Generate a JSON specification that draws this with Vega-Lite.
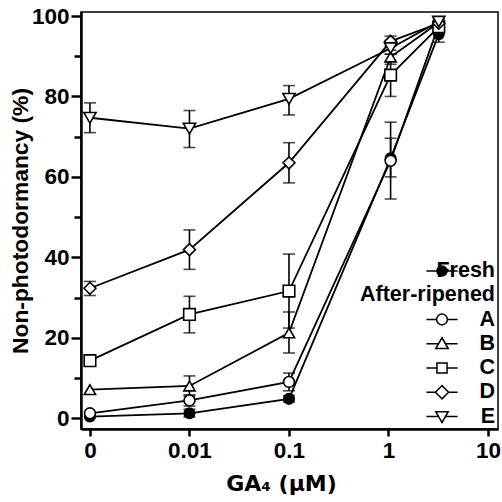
{
  "$schema": "https://vega.github.io/schema/vega-lite/v6.json",
  "width": 417,
  "height": 417,
  "autosize": {"type": "none"},
  "padding": {"left": 81, "top": 12, "right": 4, "bottom": 73},
  "background": "white",
  "config": {
    "font": "Liberation Sans",
    "view": {"stroke": "black", "strokeWidth": 1.5},
    "axis": {
      "domainColor": "black",
      "domainWidth": 2.5,
      "tickColor": "black",
      "tickWidth": 2.5,
      "grid": false
    }
  },
  "data": {
    "values": [
      {"s": "Fresh", "x": 0.001, "y": 0.4},
      {"s": "Fresh", "x": 0.01, "y": 1.2, "lo": 0.3, "hi": 2.2},
      {"s": "Fresh", "x": 0.1, "y": 4.8, "lo": 4, "hi": 5.6},
      {"s": "Fresh", "x": 1.05, "y": 64.6, "lo": 60, "hi": 69.6},
      {"s": "Fresh", "x": 3.2, "y": 95.5, "lo": 93.5, "hi": 97.5},
      {"s": "A", "x": 0.001, "y": 1.2},
      {"s": "A", "x": 0.01, "y": 4.4, "lo": 3, "hi": 5.8},
      {"s": "A", "x": 0.1, "y": 9, "lo": 6.8, "hi": 11.2},
      {"s": "A", "x": 1.05, "y": 64, "lo": 54.5, "hi": 73.6},
      {"s": "A", "x": 3.2, "y": 97.8, "lo": 96.5, "hi": 99.2},
      {"s": "B", "x": 0.001, "y": 7.1},
      {"s": "B", "x": 0.01, "y": 8, "lo": 5.5, "hi": 10.5},
      {"s": "B", "x": 0.1, "y": 21.2, "lo": 16.2, "hi": 26.4},
      {"s": "B", "x": 1.05, "y": 89.8, "lo": 88, "hi": 91.5},
      {"s": "B", "x": 3.2, "y": 98.4, "lo": 97.5, "hi": 99.5},
      {"s": "C", "x": 0.001, "y": 14.3},
      {"s": "C", "x": 0.01, "y": 25.8, "lo": 21.2, "hi": 30.3},
      {"s": "C", "x": 0.1, "y": 31.6, "lo": 22.4, "hi": 40.8},
      {"s": "C", "x": 1.05, "y": 85.3, "lo": 80, "hi": 90.5},
      {"s": "C", "x": 3.2, "y": 97.3, "lo": 96, "hi": 98.6},
      {"s": "D", "x": 0.001, "y": 32.3, "lo": 30.5, "hi": 34},
      {"s": "D", "x": 0.01, "y": 41.9, "lo": 37, "hi": 46.8},
      {"s": "D", "x": 0.1, "y": 63.5, "lo": 58.5, "hi": 68.5},
      {"s": "D", "x": 1.05, "y": 93.7, "lo": 92.5, "hi": 95},
      {"s": "D", "x": 3.2, "y": 98.2},
      {"s": "E", "x": 0.001, "y": 74.7, "lo": 71, "hi": 78.4},
      {"s": "E", "x": 0.01, "y": 72, "lo": 67.3, "hi": 76.5},
      {"s": "E", "x": 0.1, "y": 79.4, "lo": 75.4, "hi": 82.7},
      {"s": "E", "x": 1.05, "y": 92, "lo": 90.5, "hi": 93.5},
      {"s": "E", "x": 3.2, "y": 98.6, "lo": 97.5, "hi": 99.6}
    ]
  },
  "encoding": {
    "x": {
      "field": "x",
      "type": "quantitative",
      "scale": {"type": "log", "domain": [0.000813, 12.6], "nice": false},
      "axis": {
        "values": [0.001, 0.01, 0.1, 1, 10],
        "labelExpr": "datum.value < 0.005 ? '0' : format(datum.value, '~g')",
        "tickSize": 7,
        "labelPadding": 3,
        "labelFont": "Liberation Sans",
        "labelFontWeight": "bold",
        "labelFontSize": 22.5,
        "labelColor": "black",
        "labelFlush": false,
        "labelBound": false,
        "labelOverlap": false,
        "title": "GA₄ (μM)",
        "titleFont": "DejaVu Sans",
        "titleFontWeight": "bold",
        "titleFontSize": 22,
        "titleColor": "black",
        "titleX": 200,
        "titlePadding": 12
      }
    },
    "y": {
      "field": "y",
      "type": "quantitative",
      "scale": {"domain": [-2.7, 101], "nice": false, "zero": false},
      "axis": {
        "values": [0, 10, 20, 30, 40, 50, 60, 70, 80, 90, 100],
        "labelExpr": "datum.value % 20 === 0 ? datum.label : ''",
        "tickSize": {"condition": {"test": "datum.value % 20 === 0", "value": 10}, "value": 7},
        "labelPadding": 2,
        "labelFont": "Liberation Sans",
        "labelFontWeight": "bold",
        "labelFontSize": 22.5,
        "labelColor": "black",
        "title": "Non-photodormancy (%)",
        "titleFont": "Liberation Sans",
        "titleFontWeight": "bold",
        "titleFontSize": 22.8,
        "titleColor": "black",
        "titlePadding": -1
      }
    }
  },
  "layer": [
    {
      "mark": {"type": "line", "color": "black", "strokeWidth": 1.8},
      "encoding": {"detail": {"field": "s"}, "order": {"field": "x", "type": "quantitative"}}
    },
    {
      "transform": [{"filter": "isValid(datum.lo)"}],
      "mark": {"type": "rule", "color": "black", "strokeWidth": 1.6},
      "encoding": {"y": {"field": "lo", "type": "quantitative"}, "y2": {"field": "hi"}}
    },
    {
      "transform": [{"filter": "isValid(datum.lo)"}],
      "mark": {"type": "tick", "orient": "horizontal", "color": "black", "size": 12, "thickness": 1.6},
      "encoding": {"y": {"field": "lo", "type": "quantitative"}}
    },
    {
      "transform": [{"filter": "isValid(datum.lo)"}],
      "mark": {"type": "tick", "orient": "horizontal", "color": "black", "size": 12, "thickness": 1.6},
      "encoding": {"y": {"field": "hi", "type": "quantitative"}}
    },
    {
      "mark": {"type": "point", "filled": true, "stroke": "black", "strokeWidth": 1.6, "opacity": 1},
      "encoding": {
        "shape": {
          "field": "s",
          "scale": {
            "domain": ["Fresh", "A", "B", "C", "D", "E"],
            "range": ["circle", "circle", "triangle-up", "square", "diamond", "triangle-down"]
          },
          "legend": null
        },
        "fill": {
          "field": "s",
          "scale": {
            "domain": ["Fresh", "A", "B", "C", "D", "E"],
            "range": ["black", "white", "white", "white", "white", "white"]
          },
          "legend": null
        },
        "size": {
          "field": "s",
          "scale": {
            "domain": ["Fresh", "A", "B", "C", "D", "E"],
            "range": [110, 150, 180, 130, 190, 180]
          },
          "legend": null
        }
      }
    },
    {
      "mark": {"type": "point", "filled": false, "stroke": "black", "strokeWidth": 1.5, "opacity": 0},
      "encoding": {
        "shape": {
          "field": "s",
          "scale": {
            "domain": ["Fresh", "After-ripened", "A", "B", "C", "D", "E"],
            "range": [
              "M-1.3,0H-0.42M0.42,0A0.42,0.42,0,1,1,-0.42,0A0.42,0.42,0,1,1,0.42,0ZM0.33,0A0.33,0.33,0,1,1,-0.33,0A0.33,0.33,0,1,1,0.33,0ZM0.24,0A0.24,0.24,0,1,1,-0.24,0A0.24,0.24,0,1,1,0.24,0ZM0.15,0A0.15,0.15,0,1,1,-0.15,0A0.15,0.15,0,1,1,0.15,0ZM0.06,0A0.06,0.06,0,1,1,-0.06,0A0.06,0.06,0,1,1,0.06,0ZM0.42,0H1.3",
              "M0,0",
              "M-1.3,0H-0.45M0.45,0H1.3M0.45,0A0.45,0.45,0,1,1,-0.45,0A0.45,0.45,0,1,1,0.45,0Z",
              "M-1.3,0H-0.28M0.28,0H1.3M0,-0.5L0.52,0.4L-0.52,0.4Z",
              "M-1.3,0H-0.42M0.42,0H1.3M-0.42,-0.42H0.42V0.42H-0.42Z",
              "M-1.3,0H-0.55M0.55,0H1.3M0,-0.55L0.55,0L0,0.55L-0.55,0Z",
              "M-1.3,0H-0.28M0.28,0H1.3M0,0.5L0.52,-0.4L-0.52,-0.4Z"
            ]
          },
          "legend": {
            "title": null,
            "orient": "none",
            "legendX": 348,
            "legendY": 246,
            "symbolSize": 576,
            "symbolStrokeWidth": 1.5,
            "symbolStrokeColor": "black",
            "symbolOpacity": 1,
            "rowPadding": 0.25,
            "labelFont": "Liberation Sans",
            "labelFontWeight": "bold",
            "labelFontSize": 21.5,
            "labelColor": "black",
            "labelAlign": "right",
            "labelLimit": 400,
            "labelOffset": 40,
            "labelExpr": "datum.label === 'After-ripened' ? datum.label : datum.label + '\u2003\u2003\u2003\u2002\u2009'",
            "encode": {
              "symbols": {
                "stroke": {"value": "black"},
                "strokeWidth": {"value": 1.5}
              }
            }
          }
        }
      }
    }
  ],
  "resolve": {"scale": {"shape": "independent", "fill": "independent", "size": "independent"}}
}
